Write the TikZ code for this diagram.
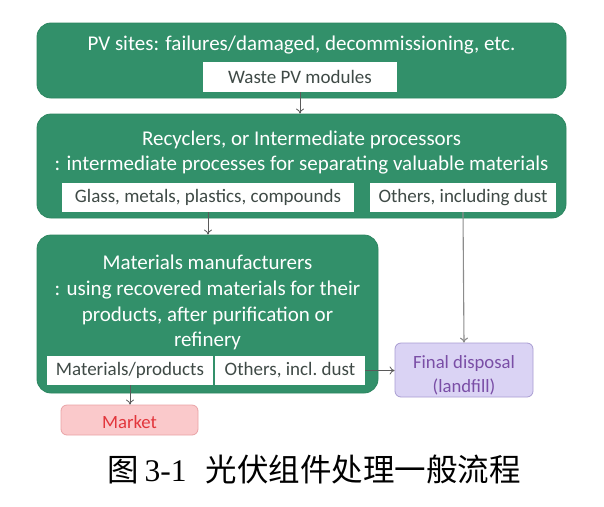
\documentclass[tikz,border=0pt]{standalone}
\usepackage{fontspec}
\setmainfont{Carlito}
\newfontfamily\cjk{Noto Sans CJK SC}
\newfontfamily\capserif{Liberation Serif}
\usetikzlibrary{arrows.meta}
\definecolor{pvgreen}{HTML}{32906A}
\definecolor{pvedge}{HTML}{2C8660}
\definecolor{boxtext}{HTML}{3F4A46}
\definecolor{arrgray}{HTML}{5A5A5A}
\definecolor{lgray}{HTML}{8C8C8C}
\definecolor{lavfill}{HTML}{DAD3F4}
\definecolor{lavedge}{HTML}{A99DD2}
\definecolor{lavtext}{HTML}{7A4EA6}
\definecolor{pinkfill}{HTML}{FAC9CB}
\definecolor{pinkedge}{HTML}{E9A3A6}
\definecolor{redtext}{HTML}{E2363C}
\begin{document}
\begin{tikzpicture}[x=1pt,y=-1pt,
  greenbox/.style={fill=pvgreen, draw=pvedge, line width=0.8pt, rounded corners=14pt, inner sep=0pt},
  whitebox/.style={fill=white, draw=none, inner sep=0pt, text=boxtext, font=\fontsize{19}{22}\selectfont},
  gtext/.style={text=white, align=center, inner sep=0pt, font=\fontsize{21}{25.8}\selectfont},
  endbox/.style={rounded corners=6pt, line width=0.8pt, inner sep=0pt},
  endtext/.style={inner sep=0pt, align=center, font=\fontsize{18.7}{24}\selectfont},
  arr/.style={draw=arrgray, line width=0.8pt, -{To[length=5pt,width=8pt]}},
  larr/.style={draw=lgray, line width=1.1pt, -{To[length=5pt,width=8pt]}}
]
\fill[white] (0,0) rectangle (604,506);
\useasboundingbox (0,0) rectangle (604,506);

% Box 1
\node[greenbox, minimum width=529pt, minimum height=75pt] (sites) at (301.5,60.5) {};
\node[gtext] (sitestxt) at (301.5,45) {PV sites: failures/damaged, decommissioning, etc.};
\node[whitebox, minimum width=194pt, minimum height=30pt] (waste) at (300,77) {Waste PV modules};

% Box 2
\node[greenbox, minimum width=529pt, minimum height=104pt] (recyc) at (301.5,166) {};
\node[gtext] (recyctxt) at (301.5,152.5) {Recyclers, or Intermediate processors\\: intermediate processes for separating valuable materials};
\node[whitebox, minimum width=292pt, minimum height=29pt] (glass) at (208,197.5) {Glass, metals, plastics, compounds};
\node[whitebox, minimum width=186pt, minimum height=29pt] (others1) at (463,197.5) {Others, including dust};

% Box 3
\node[greenbox, minimum width=341pt, minimum height=158pt] (manu) at (207.5,314) {};
\node[gtext] (manutxt) at (207.5,302.5) {Materials manufacturers\\: using recovered materials for their\\products, after purification or\\refinery};
\node[whitebox, minimum width=166pt, minimum height=29pt] (mat) at (130,370.5) {Materials/products};
\node[whitebox, minimum width=150pt, minimum height=29pt] (others2) at (290,370.5) {Others, incl.\ dust};

% End boxes
\node[endbox, fill=lavfill, draw=lavedge, minimum width=138pt, minimum height=54pt] (final) at (464,370) {};
\node[endtext, text=lavtext] (finaltxt) at (464,375.5) {Final disposal\\(landfill)};
\node[endbox, fill=pinkfill, draw=pinkedge, minimum width=137pt, minimum height=30pt] (market) at (129.5,420) {};
\node[endtext, text=redtext] (markettxt) at (129.5,422) {Market};

% Connectors
\draw[arr] (waste.south) -- (waste.south |- recyc.north);
\draw[arr] (glass.south) -- (glass.south |- manu.north);
\draw[larr] (others1.south) -- (final.north);
\draw[arr] (others2.east) -- (others2.east -| final.west);
\draw[arr] (mat.south) -- (mat.south |- market.north);

% Caption
\node[anchor=west, inner sep=0pt, font=\fontsize{31.5}{31.5}\selectfont] (caption) at (107,470)
  {{\cjk 图}\hspace{6pt}{\capserif 3-1}\hspace{19pt}{\cjk 光伏组件处理一般流程}};
\end{tikzpicture}
\end{document}
